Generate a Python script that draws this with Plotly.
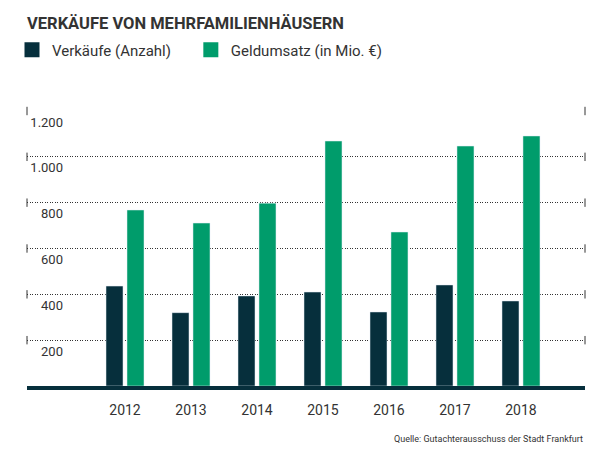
import plotly.graph_objects as go

# Verkäufe von Mehrfamilienhäusern in Frankfurt
years = [2012, 2013, 2014, 2015, 2016, 2017, 2018]
sales_count = [436, 320, 393, 410, 323, 441, 371]
turnover_mio = [768, 711, 798, 1069, 672, 1047, 1091]

y_ticks = [200, 400, 600, 800, 1000, 1200]
y_tick_labels = ["200", "400", "600", "800", "1.000", "1.200"]

series_names = ["Verkäufe (Anzahl)", "Geldumsatz (in Mio. €)"]

DARK = "#062f3c"
GREEN = "#009c6b"
TEXT = "#333333"
FONT = "Roboto"

# page body has an 8px margin, so the figure is 8px smaller than the window
W, H = 592, 442
X_RANGE = [2010.515, 2018.97]

fig = go.Figure()
fig.add_trace(
    go.Bar(x=years, y=sales_count, name=series_names[0],
           marker={"color": DARK}, showlegend=False, hoverinfo="x+y")
)
fig.add_trace(
    go.Bar(x=years, y=turnover_mio, name=series_names[1],
           marker={"color": GREEN}, showlegend=False, hoverinfo="x+y")
)

# legend entries with bigger square swatches (nbsp pads the gap between entries)
legend_labels = [series_names[0] + "\u00a0" * 4, series_names[1]]
for name, color in zip(legend_labels, [DARK, GREEN]):
    fig.add_trace(
        go.Scatter(x=[None], y=[None], mode="markers", name=name,
                   marker={"symbol": "square", "size": 15, "color": color})
    )

# small vertical ticks at both ends of each grid line
fig.add_trace(
    go.Scatter(
        x=[X_RANGE[0]] * len(y_ticks) + [X_RANGE[1]] * len(y_ticks),
        y=y_ticks + y_ticks,
        mode="markers",
        marker={"symbol": "line-ns", "size": 6, "line": {"width": 1, "color": TEXT}},
        cliponaxis=False,
        showlegend=False,
        hoverinfo="skip",
    )
)

fig.update_layout(
    width=W,
    height=H,
    paper_bgcolor="white",
    plot_bgcolor="white",
    font={"family": FONT, "size": 14, "color": TEXT},
    margin={"l": 19, "r": 15, "t": 103, "b": 64, "pad": 0},
    barmode="group",
    bargap=0.364,
    bargroupgap=0.19,
    title={
        "text": "<b>VERKÄUFE VON MEHRFAMILIENHÄUSERN</b>",
        "x": 19 / W,
        "xanchor": "left",
        "y": 1 - 15 / H,
        "yanchor": "middle",
        "font": {"family": FONT, "size": 16.5, "color": TEXT},
    },
    legend={
        "orientation": "h",
        "xref": "container",
        "yref": "container",
        "x": 4 / W,
        "y": 1 - 42 / H,
        "xanchor": "left",
        "yanchor": "middle",
        "font": {"family": FONT, "size": 15, "color": TEXT},
        "itemsizing": "trace",
    },
    showlegend=True,
)

fig.update_xaxes(
    range=X_RANGE,
    tickvals=years,
    ticktext=[str(y) for y in years],
    showgrid=False,
    zeroline=False,
    showline=True,
    linewidth=4,
    linecolor=DARK,
    ticks="",
    ticklabelstandoff=8,
    tickfont={"size": 14, "color": TEXT},
)

fig.update_yaxes(
    range=[0, 1200],
    tickvals=y_ticks,
    ticktext=y_tick_labels,
    anchor="free",
    position=0.0645,
    showgrid=True,
    gridcolor="#333333",
    gridwidth=1,
    griddash="1px,1.5px",
    zeroline=False,
    showline=False,
    ticks="",
    ticklabelshift=11,
    tickfont={"size": 13, "color": TEXT},
)

fig.add_annotation(
    text="Quelle: Gutachterausschuss der Stadt Frankfurt",
    xref="paper",
    yref="paper",
    x=1,
    y=(386 - 439) / 275,
    xanchor="right",
    yanchor="middle",
    showarrow=False,
    font={"family": FONT, "size": 9, "color": TEXT},
)

fig.write_html("out.html")
